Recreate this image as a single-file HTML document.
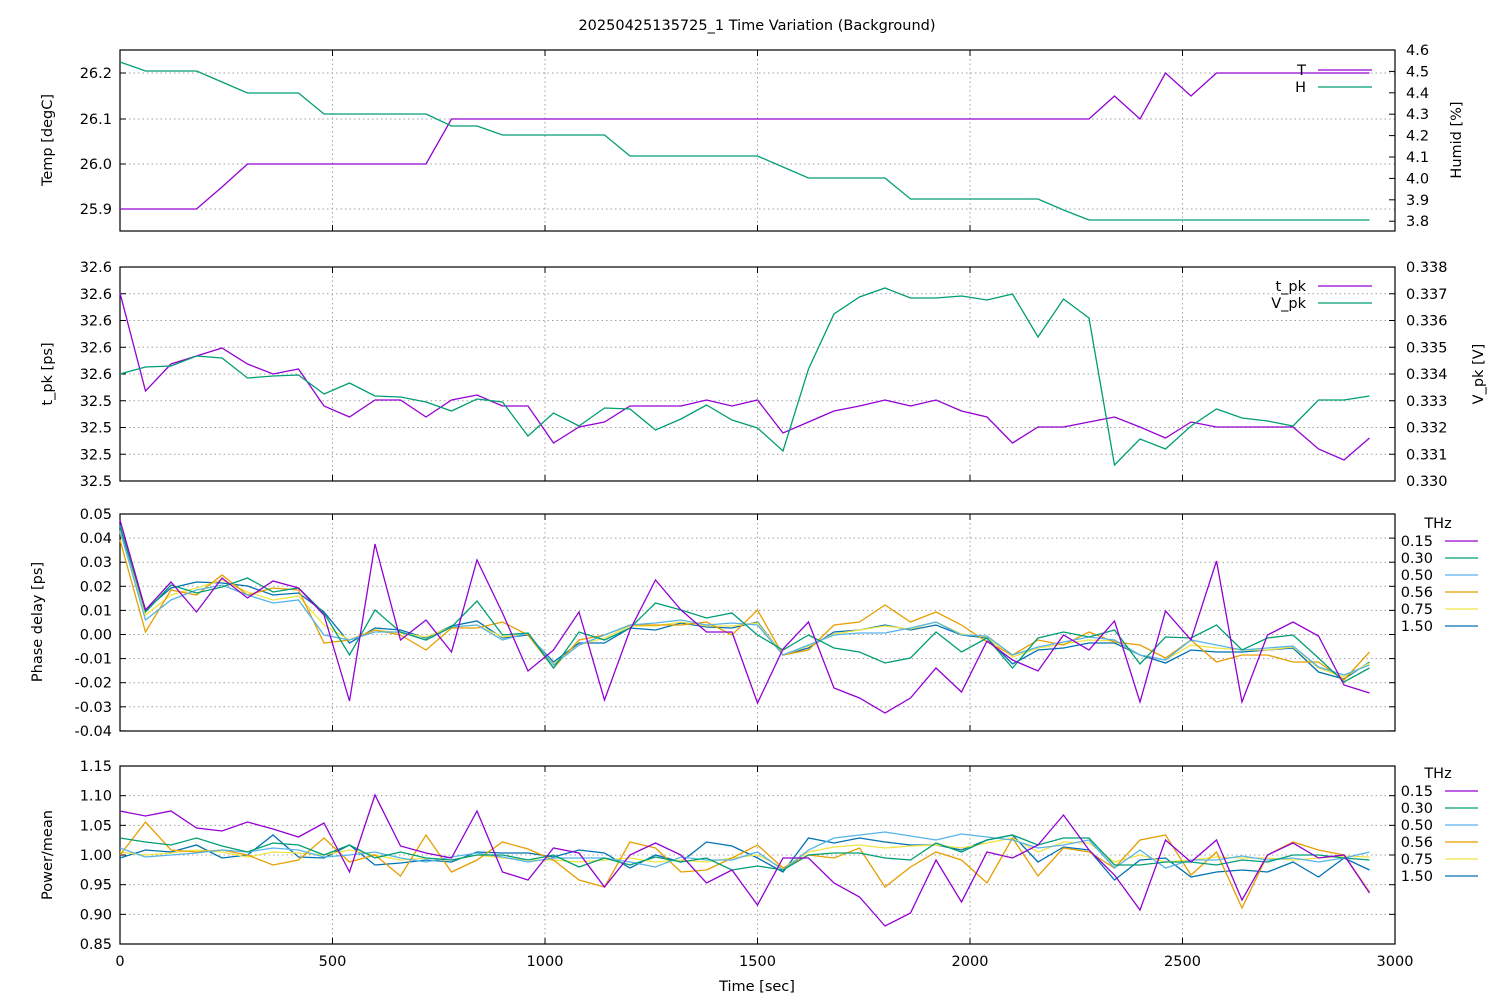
<!DOCTYPE html>
<html><head><meta charset="utf-8"><style>
body{margin:0;background:#fff}
svg{display:block;font-family:"DejaVu Sans","Liberation Sans",sans-serif;font-size:14.5px}
</style></head><body>
<svg id="s" width="1500" height="1000" xmlns="http://www.w3.org/2000/svg">
<rect width="1500" height="1000" fill="#fff"/>
</svg>
<script>
const s=document.getElementById('s');let h='';
const L=120,R=1395;
const C={p:'#9400d3',g:'#009e73',lb:'#56b4e9',o:'#e69f00',y:'#f0e442',db:'#0072b2'};
function X(i){return L+i*25.5}
function line(ys,c){let p=ys.map((y,i)=>X(i).toFixed(1)+','+y).join(' ');h+=`<polyline points="${p}" fill="none" stroke="${c}" stroke-width="1.3"/>`;}
function txt(x,y,t,a,extra){h+=`<text x="${x}" y="${y}" text-anchor="${a||'start'}" ${extra||''}>${t}</text>`;}
function panel(top,bot,yt,ltick,rtick){
  for(let k=0;k<=6;k++){let x=L+k*212.5;if(k>0&&k<6)h+=`<line x1="${x}" y1="${top}" x2="${x}" y2="${bot}" stroke="#a0a0a0" stroke-dasharray="1.5,3"/>`;
    h+=`<line x1="${x}" y1="${bot}" x2="${x}" y2="${bot-6}" stroke="#000"/><line x1="${x}" y1="${top}" x2="${x}" y2="${top+6}" stroke="#000"/>`;}
  yt.forEach(y=>{if(y>top+1&&y<bot-1)h+=`<line x1="${L}" y1="${y}" x2="${R}" y2="${y}" stroke="#a0a0a0" stroke-dasharray="1.5,3"/>`;});
  ltick.forEach(([y,t])=>{h+=`<line x1="${L}" y1="${y}" x2="${L+6}" y2="${y}" stroke="#000"/>`;txt(L-8,y+5,t,'end');if(!rtick)h+=`<line x1="${R}" y1="${y}" x2="${R-6}" y2="${y}" stroke="#000"/>`;});
  if(rtick)rtick.forEach(([y,t])=>{h+=`<line x1="${R}" y1="${y}" x2="${R-6}" y2="${y}" stroke="#000"/>`;txt(R+11,y+5,t,'start');});
  h+=`<rect x="${L}" y="${top}" width="${R-L}" height="${bot-top}" fill="none" stroke="#000" stroke-width="1.2"/>`;
}
txt(757,30,'20250425135725_1 Time Variation (Background)','middle');
let t1=[[73,'26.2'],[119,'26.1'],[164,'26.0'],[209,'25.9']];
let r1=[];for(let k=0;k<=8;k++)r1.push([50+k*21.4,(4.6-k*0.1).toFixed(1)]);
panel(50,231,t1.map(a=>a[0]),t1,r1);
let T=[209,209,209,209,187];for(let i=5;i<=12;i++)T.push(164);for(let i=13;i<=38;i++)T.push(119);T.push(96,119,73,96);for(let i=43;i<50;i++)T.push(73);
let H=[62,71,71,71,82,93,93,93];for(let i=8;i<=12;i++)H.push(114);H.push(126,126);for(let i=15;i<=19;i++)H.push(135);for(let i=20;i<=25;i++)H.push(156);H.push(167);for(let i=27;i<=30;i++)H.push(178);for(let i=31;i<=36;i++)H.push(199);H.push(210);for(let i=38;i<50;i++)H.push(220);
line(T,C.p);line(H,C.g);
txt(1306,75,'T','end');h+=`<line x1="1318" y1="70" x2="1372" y2="70" stroke="${C.p}" stroke-width="1.3"/>`;
txt(1306,92,'H','end');h+=`<line x1="1318" y1="87" x2="1372" y2="87" stroke="${C.g}" stroke-width="1.3"/>`;
txt(52,140,'Temp [degC]','middle','transform="rotate(-90 52 140)"');
txt(1461,140,'Humid [%]','middle','transform="rotate(-90 1461 140)"');
let l2=[],r2=[];for(let k=0;k<=8;k++){let y=267+k*26.75;l2.push([y,k<5?'32.6':'32.5']);r2.push([y,(0.338-k*0.001).toFixed(3)]);}
panel(267,481,l2.map(a=>a[0]),l2,r2);
line([293,391,364,356,348,364,374,369,406,417,400,400,417,400,395,406,406,443,427,422,406,406,406,400,406,400,433,422,411,406,400,406,400,411,417,443,427,427,422,417,427,438,422,427,427,427,427,449,460,438],C.p);
line([374,367,366,356,358,378,376,375,394,383,396,397,402,411,399,402,436,413,426,408,409,430,419,405,420,428,451,369,314,297,288,298,298,296,300,294,337,299,318,465,439,449,426,409,418,421,426,400,400,396],C.g);
txt(1306,291,'t_pk','end');h+=`<line x1="1318" y1="286" x2="1372" y2="286" stroke="${C.p}" stroke-width="1.3"/>`;
txt(1306,308,'V_pk','end');h+=`<line x1="1318" y1="303" x2="1372" y2="303" stroke="${C.g}" stroke-width="1.3"/>`;
txt(52,374,'t_pk [ps]','middle','transform="rotate(-90 52 374)"');
txt(1483,374,'V_pk [V]','middle','transform="rotate(-90 1483 374)"');
let l3=[];const lab3=['0.05','0.04','0.03','0.02','0.01','0.00','-0.01','-0.02','-0.03','-0.04'];for(let k=0;k<=9;k++)l3.push([514+k*24.1,lab3[k]]);
panel(514,731,l3.map(a=>a[0]),l3,null);
const P3={
db:[527,610,588,582,583,586,595,593,612,643,628,630,638,626,621,638,635,662,643,643,628,630,623,627,628,622,655,648,632,630,625,630,625,635,638,664,650,648,643,643,655,663,650,652,652,650,648,672,679,662],
y:[532,615,595,588,580,592,600,596,625,640,630,633,637,627,625,637,634,664,645,638,626,626,622,626,626,623,655,646,634,630,626,629,622,634,637,657,648,644,640,641,655,660,645,648,650,650,647,668,677,663],
o:[540,632,590,595,575,595,588,590,643,640,630,635,650,628,628,622,635,668,640,635,625,625,625,622,635,610,655,650,625,622,605,622,612,625,642,655,640,645,632,642,645,658,640,662,655,655,662,662,680,652],
lb:[530,620,600,590,585,595,603,600,635,640,632,632,640,627,625,640,633,665,645,635,625,623,620,625,623,625,655,645,635,633,633,628,622,635,636,655,647,642,637,640,655,660,640,645,650,648,646,667,675,665],
g:[525,612,585,593,587,578,592,588,613,655,610,632,640,627,601,635,633,668,632,640,628,603,610,618,613,635,650,635,648,652,663,658,632,652,638,668,638,632,637,630,664,637,638,625,650,638,635,658,682,668],
p:[520,610,582,612,578,598,581,588,615,701,544,640,620,652,560,613,671,650,612,700,630,580,610,632,632,703,649,622,688,698,713,698,668,692,641,660,671,635,650,621,702,611,640,561,702,635,622,636,685,693]};
['db','y','o','lb','g','p'].forEach(k=>line(P3[k],C[k]));
function legend(y0){txt(1438,y0-13,'THz','middle');const ks=['p','g','lb','o','y','db'],ls=['0.15','0.30','0.50','0.56','0.75','1.50'];
 ks.forEach((k,i)=>{let y=y0+i*17;txt(1433,y+5,ls[i],'end');h+=`<line x1="1445" y1="${y}" x2="1478" y2="${y}" stroke="${C[k]}" stroke-width="1.3"/>`;});}
legend(541);
txt(42,622,'Phase delay [ps]','middle','transform="rotate(-90 42 622)"');
let l4=[];const lab4=['1.15','1.10','1.05','1.00','0.95','0.90','0.85'];for(let k=0;k<=6;k++)l4.push([766+k*29.67,lab4[k]]);
panel(766,944,l4.map(a=>a[0]),l4,null);
const P4={
db:[858,850,852,845,858,855,835,857,858,845,865,863,860,862,852,853,853,857,850,853,868,855,862,842,846,858,872,838,843,838,842,845,845,850,840,835,862,847,850,880,860,858,877,872,870,872,862,877,858,870],
y:[852,855,853,850,852,857,852,853,855,850,855,860,858,860,855,858,860,860,862,860,858,862,860,862,858,855,868,852,847,845,848,846,845,848,843,838,852,842,843,862,855,862,860,857,858,858,860,858,856,857],
o:[855,822,850,852,850,855,865,860,838,862,855,876,835,872,860,842,849,860,880,887,842,848,872,870,858,845,868,855,858,848,887,867,852,860,883,838,876,848,852,868,840,835,875,852,908,855,842,850,855,892],
lb:[848,857,855,853,850,852,848,850,857,855,852,858,862,857,853,857,862,858,858,858,862,867,857,860,860,852,870,850,838,835,832,836,840,834,837,840,848,845,840,868,850,868,860,860,856,860,858,862,858,852],
g:[838,842,845,838,846,852,843,845,855,845,858,852,858,860,855,855,860,855,867,858,865,857,862,858,870,866,870,855,853,853,858,860,843,852,840,835,845,838,838,865,865,862,862,865,860,862,855,855,858,860],
p:[811,816,811,828,831,822,829,837,823,872,795,846,853,858,811,872,880,848,853,887,855,843,855,883,870,905,858,858,883,897,926,913,860,902,852,858,845,815,850,875,910,840,862,840,900,855,843,858,855,893]};
['db','y','o','lb','g','p'].forEach(k=>line(P4[k],C[k]));
legend(791);
txt(52,855,'Power/mean','middle','transform="rotate(-90 52 855)"');
['0','500','1000','1500','2000','2500','3000'].forEach((t,k)=>txt(L+k*212.5,966,t,'middle'));
txt(757,991,'Time [sec]','middle');
s.innerHTML+=h;
</script>
</body></html>
